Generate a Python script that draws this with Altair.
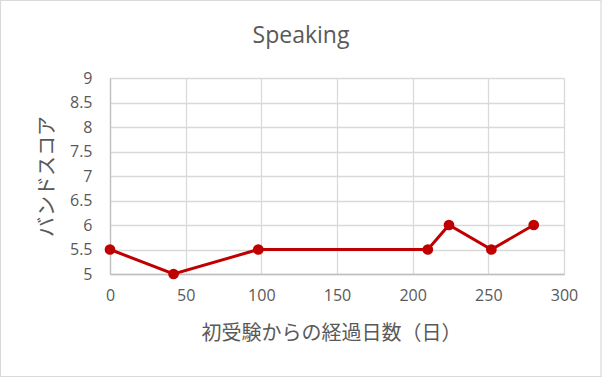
import altair as alt
import pandas as pd

# Speaking band score by days since the first test
chart_title = "Speaking"
days = [0, 42, 98, 210, 224, 252, 280]
scores = [5.5, 5.0, 5.5, 5.5, 6.0, 5.5, 6.0]

x_ticks = [0, 50, 100, 150, 200, 250, 300]
y_ticks = [5, 5.5, 6, 6.5, 7, 7.5, 8, 8.5, 9]

df = pd.DataFrame({"days": days, "score": scores})

TEXT = "#595959"
GRID = "#d9d9d9"
AXIS = "#bfbfbf"
RED = "#c00000"
LATIN = "Open Sans"
CJK = "Noto Sans CJK JP"

x_enc = alt.X(
    "days:Q",
    scale=alt.Scale(domain=[0, 300], nice=False),
    axis=alt.Axis(
        values=x_ticks,
        title="初受験からの経過日数（日）",
        titleFont=CJK,
        titleFontSize=20,
        titleFontWeight="normal",
        titleColor=TEXT,
        titleX=221,
        titleY=59,
        titleBaseline="middle",
        titleAlign="center",
        labelFont=LATIN,
        labelFontSize=16,
        labelColor=TEXT,
        labelPadding=13,
        labelFlush=False,
        labelOverlap=False,
        ticks=False,
        domainColor=AXIS,
        domainWidth=1.3,
        gridColor=GRID,
        gridWidth=1.3,
    ),
)
y_enc = alt.Y(
    "score:Q",
    scale=alt.Scale(domain=[5, 9], nice=False, zero=False),
    axis=alt.Axis(
        values=y_ticks,
        format="~g",
        title="バンドスコア",
        titleFont=CJK,
        titleFontSize=20,
        titleFontWeight="normal",
        titleColor=TEXT,
        titleAngle=-90,
        titleX=-63,
        titleY=98,
        titleBaseline="middle",
        titleAlign="center",
        labelFont=LATIN,
        labelFontSize=16,
        labelColor=TEXT,
        labelPadding=18,
        labelFlush=False,
        labelOverlap=False,
        ticks=False,
        domainColor=AXIS,
        domainWidth=1.3,
        gridColor=GRID,
        gridWidth=1.3,
    ),
)

base = alt.Chart(df).encode(x=x_enc, y=y_enc)
line = base.mark_line(color=RED, strokeWidth=3)
points = base.mark_circle(color=RED, size=115, opacity=1)

# chart heading and light frame around the whole chart
deco = pd.DataFrame({"t": [chart_title]})
heading = alt.Chart(deco).mark_text(
    font=LATIN, fontSize=23, color=TEXT, align="center", baseline="alphabetic"
).encode(x=alt.value(191), y=alt.value(-35), text="t:N")
frame = alt.Chart(deco).mark_rect(
    fillOpacity=0, stroke=GRID, strokeWidth=1.2
).encode(
    x=alt.value(-109.5), x2=alt.value(491.0),
    y=alt.value(-77.5), y2=alt.value(298.5),
)

chart = alt.layer(line, points, heading, frame).properties(
    width=454,
    height=196,
    autosize=alt.AutoSizeParams(type="none"),
    padding={"left": 110, "top": 78, "right": 38, "bottom": 103},
).configure(background="white").configure_view(stroke=None)

chart.save("out.html", embed_options={"renderer": "svg", "actions": False})
